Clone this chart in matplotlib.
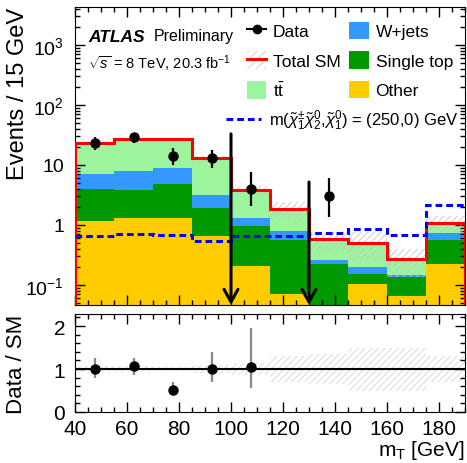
import matplotlib
matplotlib.use('Agg')
import matplotlib.pyplot as plt
import numpy as np
from matplotlib.lines import Line2D
from matplotlib.patches import Patch
from matplotlib.ticker import MultipleLocator, FixedLocator, FixedFormatter, LogLocator, NullFormatter

# binning and background composition (events / 15 GeV)
edges = np.arange(40, 191, 15)
other = np.array([1.18, 1.29, 1.29, 0.65, 0.207, 0.072, 0.03, 0.104, 0.065, 0.22])
single_top = np.array([2.80, 2.49, 3.51, 1.25, 0.75, 0.50, 0.19, 0.046, 0.073, 0.34])
wjets = np.array([3.02, 4.27, 4.0, 1.26, 0.36, 0.21, 0.036, 0.05, 0.007, 0.175])
ttbar = np.array([16.0, 18.9, 18.2, 9.7, 2.5, 1.07, 0.32, 0.30, 0.125, 0.335])
rel_unc = np.array([0.06, 0.06, 0.05, 0.10, 0.15, 0.30, 0.35, 0.50, 0.50, 0.30])
signal = np.array([0.65, 0.71, 0.69, 0.54, 0.65, 0.65, 0.74, 0.86, 0.67, 2.15])

# observed data with asymmetric errors
data = np.array([23, 29, 14, 13, 4, 0, 3, 0, 0, 0])
data_lo = np.array([18, 23.3, 10.1, 9.0, 2.1, 0, 1.34, 0, 0, 0])
data_hi = np.array([29, 34, 19, 18, 7.5, 0, 6.1, 0, 0, 0])

# signal region cuts
cuts = [100, 130]
cut_tops = [33, 5.2]

plt.rcParams['font.family'] = ['Liberation Sans', 'DejaVu Sans']
plt.rcParams['mathtext.fontset'] = 'custom'
plt.rcParams['mathtext.rm'] = 'Liberation Sans'
plt.rcParams['mathtext.it'] = 'Liberation Sans:italic'
plt.rcParams['mathtext.bf'] = 'Liberation Sans:bold'
plt.rcParams['hatch.linewidth'] = 0.6

W, H = 467, 464
fig = plt.figure(figsize=(W / 100, H / 100), dpi=100)
ax = fig.add_axes([75 / W, 1 - 306 / H, 390 / W, 298 / H])
ax2 = fig.add_axes([75 / W, 1 - 413 / H, 390 / W, 98 / H])

ymin, ymax = 0.0464, 4300
floor = 1e-4
centers = 0.5 * (edges[1:] + edges[:-1])

c1 = other
c2 = c1 + single_top
c3 = c2 + wjets
total = c3 + ttbar

ax.stairs(c1, edges, baseline=floor, fill=True, color='#FFCC00', zorder=1)
ax.stairs(c2, edges, baseline=c1, fill=True, color='#009900', zorder=1)
ax.stairs(c3, edges, baseline=c2, fill=True, color='#3399FF', zorder=1)
ax.stairs(total, edges, baseline=c3, fill=True, color='#9CF59C', zorder=1)
ax.stairs(total * (1 + rel_unc), edges, baseline=total * (1 - rel_unc), fill=True,
          facecolor='none', edgecolor='#C4C4C4', hatch='/////', lw=0, zorder=2)
ax.stairs(total, edges, baseline=floor, color='#FF0000', lw=2.2, zorder=3)
ax.stairs(signal, edges, baseline=None, color='#0000FF', lw=2.2,
          ls=(0, (2.2, 1.3)), zorder=3)

m = data > 0
ax.errorbar(centers[m], data[m], yerr=[data[m] - data_lo[m], data_hi[m] - data[m]],
            fmt='o', color='k', ms=6.5, lw=1.6, capsize=0, zorder=5)

for c, t in zip(cuts, cut_tops):
    ax.annotate('', xy=(c, ymin), xytext=(c, t), annotation_clip=False,
                arrowprops=dict(arrowstyle='->,head_width=0.5,head_length=0.9',
                                color='k', lw=2.2, shrinkA=0, shrinkB=0), zorder=6)

ax.set_yscale('log')
ax.set_xlim(40, 190)
ax.set_ylim(ymin, ymax)
ax.yaxis.set_major_locator(FixedLocator([0.1, 1, 10, 100, 1000]))
ax.yaxis.set_major_formatter(FixedFormatter([r'$10^{-1}$', '1', '10', r'$10^{2}$', r'$10^{3}$']))
ax.yaxis.set_minor_locator(LogLocator(base=10, subs=np.arange(2, 10)))
ax.yaxis.set_minor_formatter(NullFormatter())
ax.xaxis.set_major_locator(MultipleLocator(20))
ax.xaxis.set_minor_locator(MultipleLocator(5))
ax.tick_params(axis='both', which='both', direction='in', top=True, right=True)
ax.tick_params(axis='both', which='major', length=7, width=1)
ax.tick_params(axis='both', which='minor', length=3.5, width=1)
ax.tick_params(axis='x', labelbottom=False)
ax.tick_params(axis='y', labelsize=14, pad=8)
ax.set_ylabel('Events / 15 GeV', fontsize=17, loc='top')
ax.yaxis.set_label_coords(-0.118, 1.0)

# ratio panel
ratio = data / total
ax2.stairs(1 + rel_unc, edges, baseline=1 - rel_unc, fill=True, facecolor='none',
           edgecolor='#D4D4E0', hatch='/////', lw=0, zorder=1)
ax2.axhline(1, color='k', lw=1.5, zorder=2)
ax2.errorbar(centers[m], ratio[m],
             yerr=[(data[m] - data_lo[m]) / total[m], (data_hi[m] - data[m]) / total[m]],
             fmt='o', color='k', ecolor='#888888', ms=6.5, lw=1.6, capsize=0, zorder=5)
ax2.set_xlim(40, 190)
ax2.set_ylim(0, 2.28)
ax2.yaxis.set_major_locator(FixedLocator([0, 1, 2]))
ax2.yaxis.set_minor_locator(MultipleLocator(0.2))
ax2.xaxis.set_major_locator(MultipleLocator(20))
ax2.xaxis.set_minor_locator(MultipleLocator(5))
ax2.tick_params(axis='both', which='both', direction='in', top=True, right=True)
ax2.tick_params(axis='both', which='major', length=7, width=1)
ax2.tick_params(axis='both', which='minor', length=3.5, width=1)
ax2.tick_params(axis='x', labelsize=15, pad=5)
ax2.tick_params(axis='y', labelsize=15, pad=7)
ax2.set_xlabel(r'm$_{\mathrm{T}}$ [GeV]', fontsize=15, loc='right', labelpad=0)
ax2.set_ylabel('Data / SM', fontsize=16, loc='top')
ax2.yaxis.set_label_coords(-0.123, 1.0)

# ATLAS label
fig.text(88 / W, 1 - 37 / H, 'ATLAS', fontsize=12.5, fontweight='bold', fontstyle='italic', va='center')
fig.text(154 / W, 1 - 37 / H, 'Preliminary', fontsize=11.5, va='center')
fig.text(88 / W, 1 - 64 / H, r'$\sqrt{s}$ = 8 TeV, 20.3 fb$^{-1}$', fontsize=10.5, va='center')

# legends
h_data = Line2D([], [], color='k', marker='o', ms=6, lw=1.5)
h_total = (Patch(facecolor='none', edgecolor='#CCCCCC', hatch='////', lw=0),
           Line2D([], [], color='#FF0000', lw=2.2))
h_tt = Patch(facecolor='#9CF59C')
h_w = Patch(facecolor='#3399FF')
h_st = Patch(facecolor='#009900')
h_other = Patch(facecolor='#FFCC00')
leg1 = ax.legend([h_data, h_total, h_tt, h_w, h_st, h_other],
                 ['Data', 'Total SM', r'$\mathrm{t\bar{t}}$', 'W+jets', 'Single top', 'Other'],
                 ncol=2, loc='upper left', bbox_to_anchor=(247 / W, 1 - 23 / H),
                 bbox_transform=fig.transFigure, frameon=False, fontsize=12.5,
                 handlelength=1.1, handleheight=1.15, labelspacing=0.68,
                 columnspacing=0.5, handletextpad=0.4, borderpad=0, borderaxespad=0)
ax.add_artist(leg1)
h_sig = Line2D([], [], color='#0000FF', lw=2.2, ls=(0, (2.2, 1.3)))
ax.legend([h_sig], [r'm($\tilde{\chi}_1^{\pm}\tilde{\chi}_2^{0}$,$\tilde{\chi}_1^{0}$) = (250,0) GeV'],
          loc='upper left', bbox_to_anchor=(226 / W, 1 - 109 / H),
          bbox_transform=fig.transFigure, frameon=False, fontsize=12,
          handlelength=2.1, handletextpad=0.5, borderpad=0, borderaxespad=0)

plt.savefig('out.png', dpi=100)
